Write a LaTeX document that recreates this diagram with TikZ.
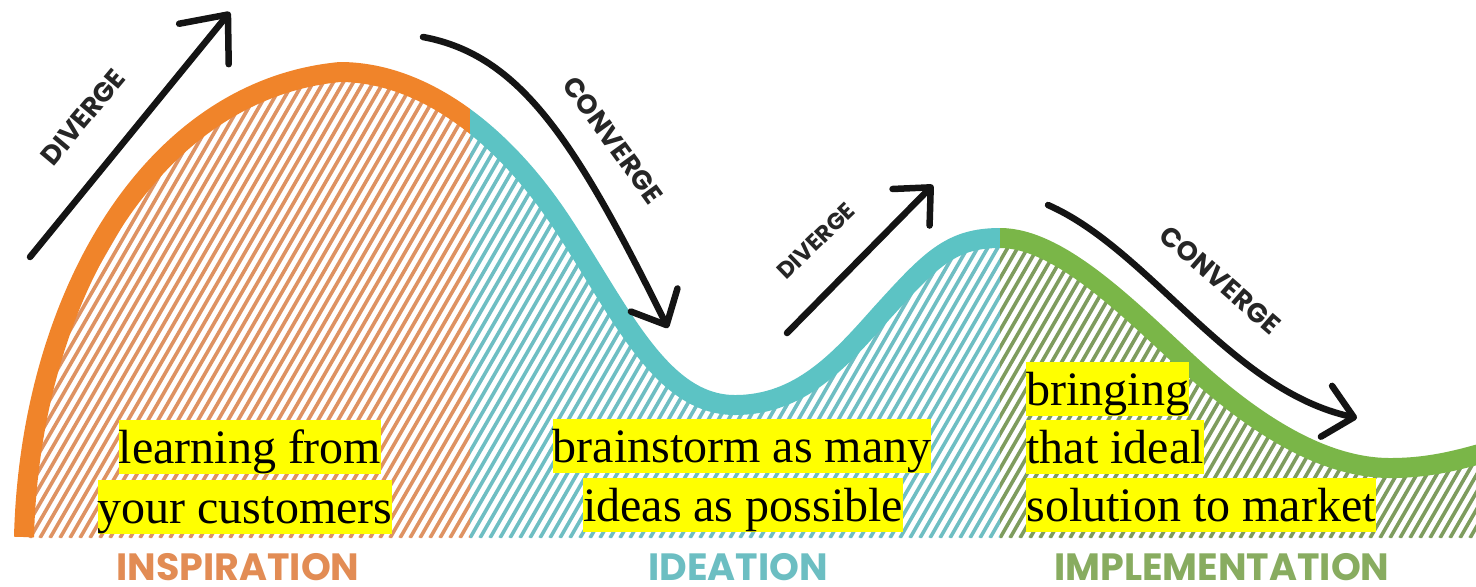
\documentclass[tikz,border=0pt]{standalone}
\usepackage{fontspec}
\setmainfont{Liberation Serif}
\newfontfamily\tagfont{Poppins}
\usepackage{tikz}
\usetikzlibrary{arrows.meta}
\usetikzlibrary{positioning}

\definecolor{insporange}{RGB}{240,132,42}
\definecolor{ideateal}{RGB}{92,195,196}
\definecolor{implgreen}{RGB}{122,182,72}
\definecolor{insphatch}{RGB}{222,146,98}
\definecolor{ideahatch}{RGB}{110,190,195}
\definecolor{implhatch}{RGB}{126,156,94}
\definecolor{insptext}{RGB}{226,140,84}
\definecolor{ideatext}{RGB}{108,190,194}
\definecolor{impltext}{RGB}{136,172,96}
\definecolor{hlyellow}{RGB}{255,255,0}

\newcommand{\wavepath}{(24,537) .. controls (30,300) and (150,90) .. (340,72)
  .. controls (420,72) and (500,130) .. (560,220)
  .. controls (620,310) and (660,405) .. (735,405)
  .. controls (800,405) and (840,360) .. (880,315)
  .. controls (930,260) and (950,238) .. (1000,238)
  .. controls (1060,238) and (1130,310) .. (1190,365)
  .. controls (1250,420) and (1320,468) .. (1390,468)
  .. controls (1430,468) and (1460,460) .. (1500,448)}

\tikzset{
  band/.style={line width=10pt},
  hatchline/.style={line width=1.8pt},
  flowarrow/.style={line width=3.25pt, line cap=round, line join=round, color=black!92,
    -{Straight Barb[length=14pt,width=26pt,line cap=round,line join=round]}},
  flowtag/.style={font=\tagfont\bfseries\fontsize{13.5}{14}\selectfont, text=black!85},
  phasetag/.style={font=\tagfont\bfseries\fontsize{19}{21}\selectfont, anchor=north, inner sep=0pt},
  hl/.style={fill=hlyellow, inner sep=0pt, text height=21.4pt, text depth=5.2pt,
    font=\fontsize{24}{28}\selectfont}
}

\begin{document}
\begin{tikzpicture}[x=0.5pt,y=-0.5pt]
\clip (0,0) rectangle (1476,586);
\fill[white] (0,0) rectangle (1476,586);

\begin{scope}
\clip \wavepath -- (1500,538) -- (24,538) -- cycle;
\clip (0,0) rectangle (470,586);
\foreach \x in {-330,-320,...,1480} \draw[hatchline,insphatch] (\x,538) -- ++(312,-540);
\end{scope}
\begin{scope}
\clip \wavepath -- (1500,538) -- (24,538) -- cycle;
\clip (470,0) rectangle (1000,586);
\foreach \x in {-330,-320,...,1480} \draw[hatchline,ideahatch] (\x,538) -- ++(312,-540);
\end{scope}
\begin{scope}
\clip \wavepath -- (1500,538) -- (24,538) -- cycle;
\clip (1000,0) rectangle (1476,586);
\foreach \x in {-330,-320,...,1480} \draw[hatchline,implhatch] (\x,538) -- ++(312,-540);
\end{scope}

\begin{scope}
\clip (0,0) rectangle (470,586);
\draw[band,insporange] \wavepath;
\end{scope}
\begin{scope}
\clip (470,0) rectangle (1000,586);
\draw[band,ideateal] \wavepath;
\end{scope}
\begin{scope}
\clip (1000,0) rectangle (1476,586);
\draw[band,implgreen] \wavepath;
\end{scope}

\coordinate (div1s) at (30,257);
\coordinate (div1e) at (230,12);
\coordinate (con1s) at (423,37);
\coordinate (con1e) at (668,328);
\coordinate (div2s) at (787,333);
\coordinate (div2e) at (933,185);
\coordinate (con2s) at (1048,205);
\coordinate (con2e) at (1357,418);
\draw[flowarrow,-{Straight Barb[length=19pt,width=32pt,line cap=round,line join=round]}] (div1s) -- (div1e);
\draw[flowarrow] (con1s) .. controls (520,55) and (575,140) .. (con1e);
\draw[flowarrow] (div2s) -- (div2e);
\draw[flowarrow] (con2s) .. controls (1150,250) and (1230,390) .. (con2e);

\node[flowtag,rotate=50] (div1) at (83,117) {DIVERGE};
\node[flowtag,rotate=-54] (con1) at (613,140) {CONVERGE};
\node[flowtag,font=\tagfont\bfseries\fontsize{11.5}{12}\selectfont,rotate=44] (div2) at (816,241) {DIVERGE};
\node[flowtag,rotate=-41] (con2) at (1220,280) {CONVERGE};

\node[hl,anchor=north] (learn1) at (250,420) {learning from\ };
\node[hl,anchor=north] (learn2) at (245,480) {your customers};
\node[hl,anchor=north] (brain1) at (742,419) {brainstorm as many};
\node[hl,anchor=north] (brain2) at (743,478) {ideas as possible};
\node[hl,anchor=north west] (bring1) at (1026,362) {bringing};
\node[hl,anchor=north west] (bring2) at (1026,420) {that ideal};
\node[hl,anchor=north west] (bring3) at (1026,478) {solution to market};

\node[phasetag,text=insptext] (insp) at (238,553) {INSPIRATION};
\node[phasetag,text=ideatext] (idea) at (738,553) {IDEATION};
\node[phasetag,text=impltext] (impl) at (1222,553) {IMPLEMENTATION};
\end{tikzpicture}
\end{document}
